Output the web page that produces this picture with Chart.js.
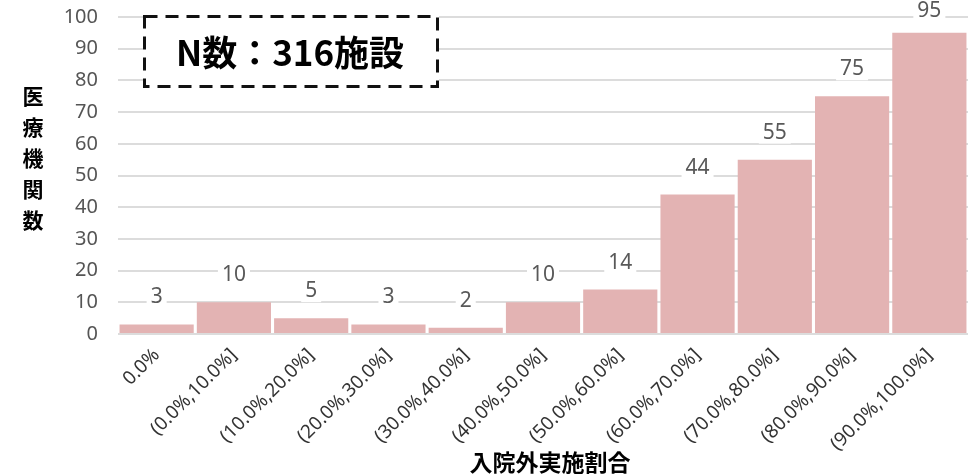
<!DOCTYPE html>
<html><head><meta charset="utf-8">
<script src="https://cdn.jsdelivr.net/npm/chart.js@4.4.0/dist/chart.umd.min.js"></script>
<style>html,body{margin:0;padding:0;background:#fff;}#wrap{width:976px;height:476px;}</style>
</head><body><div id="wrap"><canvas id="c" width="976" height="476"></canvas></div>
<script>
const categories = ["0.0%","(0.0%,10.0%]","(10.0%,20.0%]","(20.0%,30.0%]","(30.0%,40.0%]","(40.0%,50.0%]","(50.0%,60.0%]","(60.0%,70.0%]","(70.0%,80.0%]","(80.0%,90.0%]","(90.0%,100.0%]"];
const counts = [3,10,5,3,2,10,14,44,55,75,95];
const yTitle = "医療機関数";
const xTitle = "入院外実施割合";
const boxText = "N数：316施設";

const overlay = {
  id: 'overlay',
  afterDatasetsDraw(chart) {
    const ctx = chart.ctx;
    const meta = chart.getDatasetMeta(0);
    ctx.save();
    ctx.font = '21px "Noto Sans", sans-serif';
    ctx.textAlign = 'center';
    ctx.textBaseline = 'middle';
    meta.data.forEach((bar, i) => {
      const t = String(counts[i]);
      let y = Math.max(bar.y - 27, 11);
      const w = ctx.measureText(t).width + 8;
      ctx.fillStyle = '#fff';
      ctx.fillRect(bar.x - w/2, y - 11, w, 22);
      ctx.fillStyle = '#595959';
      ctx.fillText(t, bar.x, y);
    });
    ctx.restore();
  },
  afterDraw(chart) {
    const ctx = chart.ctx;
    ctx.save();
    ctx.fillStyle = '#000';
    ctx.font = 'bold 21px "Noto Sans CJK JP", sans-serif';
    ctx.textAlign = 'center';
    ctx.textBaseline = 'middle';
    [...yTitle].forEach((ch, i) => ctx.fillText(ch, 33, 96 + i * 31));
    ctx.font = 'bold 23px "Noto Sans CJK JP", sans-serif';
    ctx.fillText(xTitle, (chart.chartArea.left + chart.chartArea.right) / 2 + 7, 462);
    ctx.fillStyle = '#fff';
    ctx.fillRect(143, 15, 296, 73);
    ctx.strokeStyle = '#111';
    ctx.lineWidth = 3;
    ctx.setLineDash([13, 8]);
    ctx.strokeRect(144.5, 16.5, 293, 70);
    ctx.setLineDash([]);
    ctx.fillStyle = '#000';
    ctx.font = 'bold 35px "Noto Sans CJK JP", sans-serif';
    ctx.fillText(boxText, 290, 53);
    ctx.restore();
  }
};

new Chart(document.getElementById('c'), {
  type: 'bar',
  data: { labels: categories, datasets: [{ data: counts, backgroundColor: '#e3b3b3', borderWidth: 0, categoryPercentage: 1.0, barPercentage: 0.96 }] },
  options: {
    responsive: false, animation: false,
    layout: { padding: { left: 0, right: 8, top: 17, bottom: 0 } },
    plugins: { legend: { display: false }, tooltip: { enabled: false } },
    scales: {
      x: {
        grid: { display: false },
        border: { display: false },
        ticks: { color: '#333', font: { size: 19, family: '"Noto Sans", sans-serif' }, minRotation: 45, maxRotation: 45, autoSkip: false, padding: 2 },
        afterFit(s) { s.height = 142; s.paddingTop = 0; }
      },
      y: {
        min: 0, max: 100,
        grid: { color: '#dcdcdc', lineWidth: 2, drawTicks: false },
        border: { display: false },
        ticks: { stepSize: 10, color: '#555', font: { size: 20, family: '"Noto Sans", sans-serif' }, padding: 20 },
        afterFit(s) { s.width = 118; s.paddingTop = 0; s.paddingBottom = 0; }
      }
    }
  },
  plugins: [overlay]
});
</script></body></html>
